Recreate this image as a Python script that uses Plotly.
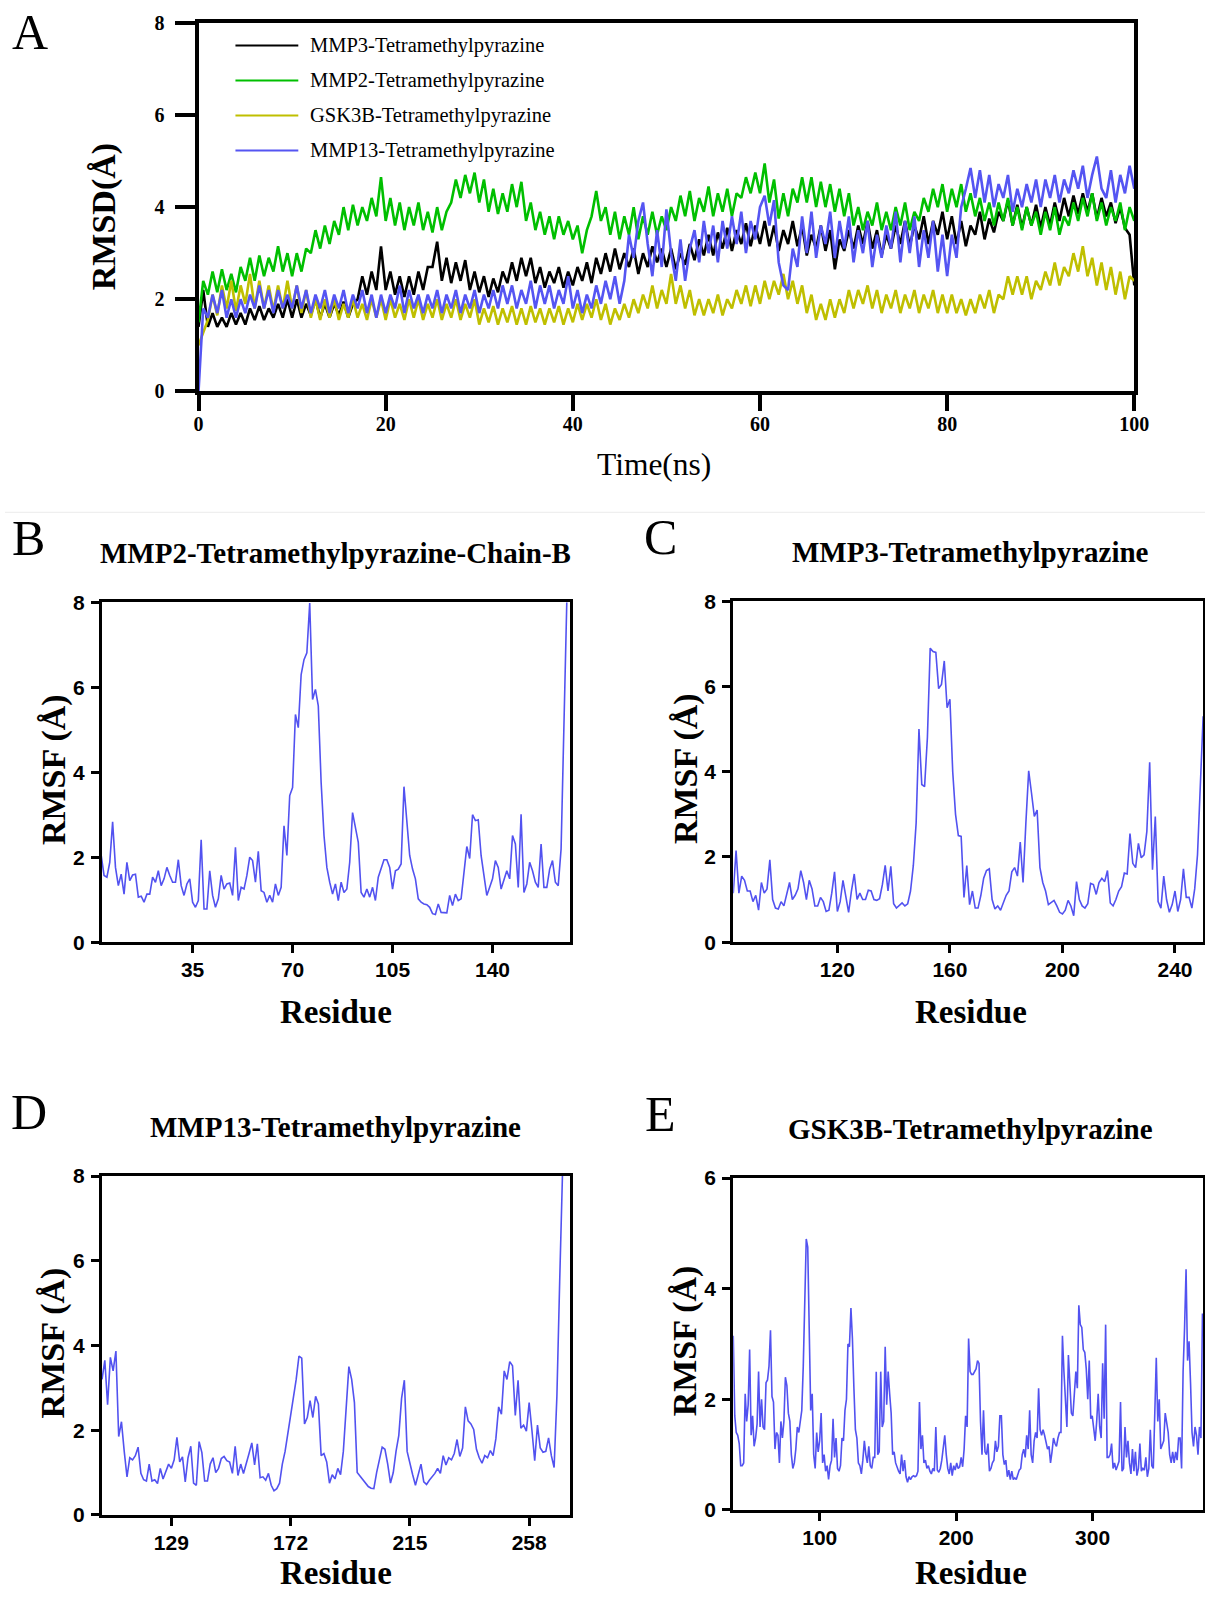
import numpy as np
import plotly.graph_objects as go

SERIF = "Liberation Serif"
SANS = "Liberation Sans"

# %% Panel A: RMSD over the 100 ns run, one value every 0.5 ns
rmsd_names = [
    "MMP3-Tetramethylpyrazine",
    "MMP2-Tetramethylpyrazine",
    "GSK3B-Tetramethylpyrazine",
    "MMP13-Tetramethylpyrazine",
]
rmsd_colors = ["#000000", "#00bf00", "#bfbf00", "#5555f2"]

rmsd_mmp3 = [
    1.4, 2.2, 1.4, 1.7, 1.4, 1.6, 1.4, 1.7, 1.45, 1.7, 1.45, 1.8, 1.55, 1.85, 1.55, 1.8, 1.6, 1.9, 1.6, 2.0,
    1.6, 2.0, 1.6, 1.9, 1.65, 2.0, 1.6, 1.9, 1.6, 1.9, 1.65, 1.95, 1.6, 1.9, 2.0, 2.5, 2.1, 2.6, 2.2, 3.15,
    2.2, 2.6, 2.1, 2.5, 2.05, 2.5, 2.1, 2.6, 2.2, 2.7, 2.7, 3.25, 2.4, 2.9, 2.35, 2.8, 2.4, 2.85, 2.2, 2.6,
    2.15, 2.5, 2.05, 2.45, 2.15, 2.6, 2.35, 2.8, 2.4, 2.9, 2.5, 2.9, 2.35, 2.7, 2.25, 2.6, 2.35, 2.7, 2.25, 2.6,
    2.3, 2.7, 2.4, 2.8, 2.35, 2.9, 2.55, 3.0, 2.6, 3.1, 2.65, 3.0, 2.7, 3.1, 2.55, 3.0, 2.7, 3.15, 2.8, 3.1,
    2.7, 3.1, 2.65, 3.0, 2.75, 3.2, 2.85, 3.3, 2.95, 3.4, 2.95, 3.45, 3.1, 3.55, 3.05, 3.5, 3.2, 3.65, 3.15, 3.6,
    3.2, 3.7, 3.15, 3.6, 3.05, 3.5, 3.2, 3.7, 3.15, 3.6, 2.95, 3.4, 3.1, 3.6, 3.05, 3.5, 2.65, 3.3, 3.05, 3.5,
    3.1, 3.6, 3.2, 3.7, 3.1, 3.5, 2.95, 3.4, 3.1, 3.6, 3.2, 3.7, 3.15, 3.6, 3.3, 3.8, 3.2, 3.7, 3.4, 3.9,
    3.3, 3.8, 3.2, 3.7, 3.15, 3.6, 3.4, 3.9, 3.3, 3.75, 3.45, 3.9, 3.7, 4.15, 3.6, 4.05, 3.55, 4.0, 3.6, 4.05,
    3.55, 4.0, 3.6, 4.1, 3.7, 4.2, 3.8, 4.25, 3.85, 4.3, 3.9, 4.3, 3.75, 4.2, 3.8, 4.1, 3.65, 4.0, 3.55, 3.4,
    2.3,
]
rmsd_mmp2 = [
    1.5, 2.4, 2.1, 2.6, 2.15, 2.65, 2.2, 2.55, 2.15, 2.7, 2.4, 2.9, 2.4, 2.95, 2.5, 2.9, 2.6, 3.15, 2.6, 3.0,
    2.5, 3.0, 2.6, 3.1, 3.0, 3.5, 3.1, 3.6, 3.2, 3.7, 3.4, 4.0, 3.5, 4.05, 3.6, 4.0, 3.7, 4.2, 3.8, 4.65,
    3.7, 4.2, 3.6, 4.1, 3.5, 4.0, 3.6, 4.1, 3.5, 3.9, 3.45, 4.0, 3.5, 3.9, 4.1, 4.6, 4.2, 4.7, 4.3, 4.75,
    4.1, 4.6, 3.9, 4.4, 3.85, 4.3, 3.9, 4.5, 4.0, 4.55, 3.7, 4.1, 3.5, 3.9, 3.4, 3.8, 3.3, 3.8, 3.4, 3.7,
    3.3, 3.6, 3.0, 3.5, 3.8, 4.35, 3.7, 4.0, 3.4, 3.9, 3.3, 3.8, 3.4, 4.0, 3.3, 3.8, 3.4, 3.9, 3.4, 3.8,
    3.5, 4.0, 3.7, 4.25, 3.8, 4.35, 3.7, 4.2, 3.9, 4.45, 3.8, 4.3, 3.9, 4.4, 3.8, 4.3, 4.2, 4.65, 4.3, 4.75,
    4.3, 4.95, 4.1, 4.6, 3.75, 4.3, 3.8, 4.4, 4.1, 4.65, 4.1, 4.65, 4.0, 4.55, 4.0, 4.5, 3.9, 4.4, 3.8, 4.3,
    3.6, 4.0, 3.5, 3.9, 3.6, 4.1, 3.5, 3.9, 3.5, 4.0, 3.6, 4.1, 3.5, 3.9, 3.7, 4.2, 3.9, 4.4, 4.0, 4.5,
    3.9, 4.4, 4.0, 4.5, 3.9, 4.3, 3.8, 4.2, 3.7, 4.1, 3.6, 4.1, 3.7, 4.2, 3.6, 4.0, 3.5, 4.0, 3.6, 3.9,
    3.4, 3.9, 3.5, 4.0, 3.4, 3.8, 3.6, 4.1, 3.7, 4.2, 3.8, 4.3, 3.7, 4.1, 3.6, 4.0, 3.7, 4.1, 3.5, 4.0,
    3.7,
]
rmsd_gsk3b = [
    1.0, 1.3, 1.55, 2.1, 1.65, 2.3, 1.8, 2.4, 1.75, 2.3, 1.9, 2.55, 1.8, 2.4, 1.8, 2.3, 1.75, 2.3, 1.8, 2.4,
    1.8, 2.3, 1.7, 2.2, 1.6, 2.0, 1.55, 2.0, 1.6, 2.0, 1.55, 1.9, 1.6, 2.0, 1.6, 1.9, 1.55, 2.0, 1.6, 2.0,
    1.55, 2.0, 1.6, 1.9, 1.55, 2.0, 1.6, 2.0, 1.55, 1.9, 1.6, 2.0, 1.55, 1.9, 1.6, 2.0, 1.55, 1.9, 1.6, 2.0,
    1.45, 1.8, 1.5, 1.85, 1.45, 1.8, 1.5, 1.85, 1.45, 1.8, 1.45, 1.85, 1.5, 1.8, 1.45, 1.8, 1.5, 1.85, 1.45, 1.8,
    1.5, 1.9, 1.55, 1.9, 1.6, 2.0, 1.55, 1.9, 1.45, 1.8, 1.55, 1.9, 1.6, 2.0, 1.7, 2.1, 1.8, 2.3, 1.8, 2.2,
    1.9, 2.55, 1.9, 2.3, 1.8, 2.2, 1.65, 2.0, 1.65, 2.0, 1.7, 2.1, 1.65, 2.0, 1.8, 2.2, 1.9, 2.3, 1.85, 2.3,
    1.9, 2.4, 2.0, 2.4, 2.1, 2.55, 2.0, 2.4, 1.9, 2.3, 1.7, 2.1, 1.55, 1.9, 1.55, 2.0, 1.6, 2.0, 1.7, 2.2,
    1.8, 2.2, 1.9, 2.3, 1.8, 2.2, 1.7, 2.1, 1.8, 2.2, 1.7, 2.1, 1.8, 2.2, 1.7, 2.1, 1.8, 2.2, 1.7, 2.1,
    1.7, 2.1, 1.7, 2.0, 1.65, 2.0, 1.7, 2.1, 1.8, 2.2, 1.7, 2.1, 2.0, 2.5, 2.1, 2.5, 2.1, 2.5, 2.0, 2.4,
    2.2, 2.6, 2.3, 2.8, 2.3, 2.7, 2.5, 3.0, 2.6, 3.15, 2.5, 2.9, 2.3, 2.8, 2.2, 2.7, 2.1, 2.6, 2.0, 2.5,
    2.4,
]
rmsd_mmp13 = [
    0.0, 1.8, 1.6, 2.1, 1.7, 2.2, 1.6, 2.0, 1.6, 2.0, 1.7, 2.1, 1.8, 2.3, 1.8, 2.2, 1.7, 2.2, 1.8, 2.1,
    1.8, 2.3, 1.8, 2.2, 1.7, 2.1, 1.8, 2.2, 1.7, 2.1, 1.8, 2.2, 1.7, 2.1, 1.8, 2.2, 1.7, 2.1, 1.6, 2.1,
    1.7, 2.1, 1.8, 2.3, 1.7, 2.2, 1.8, 2.1, 1.7, 2.1, 1.8, 2.2, 1.7, 2.1, 1.8, 2.2, 1.7, 2.1, 1.8, 2.2,
    1.7, 2.1, 1.8, 2.2, 1.8, 2.3, 1.9, 2.3, 1.8, 2.2, 1.9, 2.4, 1.8, 2.3, 1.9, 2.3, 1.8, 2.2, 1.9, 2.5,
    1.8, 2.2, 1.7, 2.1, 1.8, 2.3, 1.9, 2.4, 2.0, 2.5, 1.9, 2.4, 3.4, 2.9, 3.7, 4.1, 3.2, 2.5, 3.5, 2.7,
    3.95, 3.0, 2.4, 3.3, 2.4, 3.1, 3.5, 2.8, 3.7, 3.0, 3.6, 2.8, 3.7, 3.1, 3.8, 3.2, 3.9, 3.0, 3.7, 3.3,
    4.0, 4.25, 3.6, 4.15, 2.8, 2.3, 2.2, 3.1, 2.7, 3.8, 3.0, 3.9, 2.9, 3.6, 3.2, 3.9, 2.9, 3.7, 3.1, 3.8,
    2.8, 3.5, 3.0, 3.7, 2.7, 3.4, 2.9, 3.6, 3.1, 3.9, 2.8, 3.7, 3.0, 3.8, 2.7, 3.5, 2.9, 3.7, 2.6, 3.4,
    2.5, 3.4, 2.9, 4.0, 4.4, 4.85, 4.2, 4.8, 4.1, 4.7, 4.0, 4.5, 4.2, 4.7, 3.9, 4.4, 4.0, 4.5, 4.1, 4.6,
    4.0, 4.6, 4.2, 4.7, 4.1, 4.6, 4.3, 4.8, 4.4, 4.9, 4.2, 4.7, 5.1, 4.4, 4.2, 4.8, 4.1, 4.7, 4.3, 4.9,
    4.4,
]
rmsd_values = [rmsd_mmp3, rmsd_mmp2, rmsd_gsk3b, rmsd_mmp13]
time_ns = [i * 0.5 for i in range(len(rmsd_mmp3))]
time_ticks = [0, 20, 40, 60, 80, 100]

# %% Panels B-E: per-residue RMSF
rmsf_mmp2 = [
    2.04, 1.57, 1.53, 1.88, 2.83, 1.76, 1.33, 1.6, 1.13, 1.88,
    1.45, 1.58, 1.6, 1.06, 1.08, 0.94, 1.13, 1.13, 1.53, 1.41,
    1.68, 1.33, 1.49, 1.76, 1.57, 1.41, 1.41, 1.94, 1.33, 1.1,
    1.37, 1.49, 0.94, 0.82, 0.98, 2.41, 0.78, 0.78, 1.68, 1.1,
    0.82, 1.02, 1.57, 1.25, 1.37, 1.39, 1.1, 2.23, 0.98, 1.29,
    1.25, 1.57, 2.0, 1.92, 1.41, 2.14, 1.21, 1.17, 0.94, 1.1,
    0.94, 1.37, 1.1, 1.29, 2.74, 2.04, 3.45, 3.64, 5.36, 5.05,
    6.3, 6.65, 6.81, 7.98, 5.71, 5.95, 5.56, 3.76, 2.51, 1.76,
    1.41, 1.13, 1.37, 0.98, 1.41, 1.17, 1.25, 1.88, 3.05, 2.74,
    2.35, 1.17, 1.06, 1.25, 1.06, 1.29, 0.98, 1.53, 1.72, 1.94,
    1.94, 1.76, 1.25, 1.68, 1.72, 1.84, 3.66, 2.9, 2.04, 1.72,
    1.49, 1.02, 0.94, 0.9, 0.88, 0.82, 0.67, 0.65, 0.9, 0.7,
    0.69, 0.69, 1.1, 0.86, 1.13, 0.98, 1.02, 1.57, 2.25, 1.97,
    3.0, 2.86, 2.88, 2.04, 1.53, 1.1, 1.29, 1.49, 1.92, 1.76,
    1.25, 1.45, 1.68, 1.49, 2.51, 2.31, 1.29, 3.01, 1.17, 1.37,
    1.88, 1.68, 1.41, 1.29, 2.31, 1.29, 1.29, 1.72, 1.92, 1.41,
    1.33, 2.19, 4.85, 8.0,
]
rmsf_mmp3 = [
    1.15, 2.15, 1.15, 1.55, 1.45, 1.2, 1.2, 0.95, 1.1, 0.75,
    1.4, 1.15, 1.25, 1.93, 1.0, 0.8, 0.78, 0.95, 0.85, 1.15,
    1.4, 1.0, 1.1, 1.25, 1.68, 1.4, 1.0, 1.45, 1.25, 0.85,
    0.85, 1.05, 0.95, 0.72, 0.75, 1.15, 1.65, 0.72, 0.95, 1.45,
    1.1, 0.7, 1.2, 1.6, 1.0, 1.15, 1.0, 1.0, 1.22, 1.2,
    1.0, 0.98, 1.02, 1.35, 1.8, 1.2, 1.78, 0.9, 0.8, 0.85,
    0.92, 0.85, 0.9, 1.2, 1.8, 2.8, 5.0, 3.7, 3.65, 4.8,
    6.9, 6.82, 6.8, 5.95, 6.05, 6.6, 5.5, 5.7, 4.0, 3.0,
    2.5, 2.48, 1.05, 1.8, 0.88, 1.2, 0.8, 0.8, 1.1, 1.5,
    1.68, 1.72, 1.0, 0.78, 0.85, 0.75, 0.95, 1.1, 1.2, 1.65,
    1.75, 1.55, 2.35, 1.4, 2.8, 4.02, 3.5, 2.95, 3.1, 1.75,
    1.4, 1.2, 0.88, 0.92, 0.98, 0.85, 0.7, 0.66, 0.75, 0.98,
    0.85, 0.62, 1.42, 1.0, 0.85, 0.8, 0.9, 1.38, 1.35, 1.12,
    1.4, 1.5, 1.42, 1.68, 0.92, 0.85, 1.0, 1.2, 1.3, 1.62,
    1.6, 2.55, 1.85, 1.75, 2.32, 1.98, 2.05, 2.6, 4.22, 1.7,
    2.95, 0.95, 0.8, 1.55, 1.0, 0.7, 0.88, 1.2, 0.72, 1.0,
    1.72, 1.05, 1.05, 0.8, 1.25, 2.05, 3.5, 5.3,
]
rmsf_mmp13 = [
    3.2, 3.65, 2.6, 3.72, 3.4, 3.87, 1.85, 2.2, 1.5, 0.9,
    1.35, 1.3, 1.4, 1.6, 0.98, 0.83, 0.8, 1.2, 0.8, 0.83,
    0.74, 1.1, 0.85, 1.05, 1.2, 1.1, 1.3, 1.83, 1.25, 1.37,
    0.78, 1.35, 1.62, 0.75, 0.7, 1.73, 1.47, 0.8, 0.8, 1.2,
    1.35, 1.0, 1.1, 1.33, 1.38, 1.28, 1.25, 0.98, 1.62, 0.93,
    1.2, 0.98, 1.25, 1.45, 1.7, 1.18, 1.68, 0.88, 0.9, 0.82,
    0.98, 0.7, 0.57, 0.62, 0.75, 1.2, 1.5, 1.9, 2.4, 2.75,
    3.2, 3.75, 3.7, 2.15, 2.3, 2.7, 2.3, 2.8, 2.62, 1.4,
    1.45, 1.25, 0.75, 0.95, 0.85, 1.1, 0.95, 1.5, 2.5, 3.5,
    3.2, 2.65, 1.0, 0.92, 0.82, 0.75, 0.67, 0.63, 0.62, 1.0,
    1.3, 1.6, 1.55, 1.2, 0.75, 1.0, 1.5, 1.88, 2.75, 3.18,
    1.5, 1.2, 0.95, 0.7, 0.92, 1.2, 0.78, 0.72, 0.82, 0.9,
    0.98, 1.1, 0.98, 1.4, 1.18, 1.35, 1.3, 1.45, 1.78, 1.38,
    1.58, 2.55, 2.22, 2.15, 2.02, 1.55, 1.35, 1.22, 1.4, 1.35,
    1.52, 1.4, 1.8, 2.55, 2.38, 3.4, 3.2, 3.62, 3.52, 2.35,
    3.18, 2.05, 2.12, 1.98, 2.65, 2.0, 1.28, 2.12, 1.58, 1.48,
    1.5, 1.82, 1.4, 1.12, 2.8, 5.5, 8.0,
]
rmsf_gsk3b = [
    3.15, 1.7, 1.4, 1.35, 1.2, 0.8, 0.8, 0.85, 2.1, 1.6, 1.9, 2.9, 1.35, 1.7, 1.15, 1.3,
    1.55, 2.5, 1.5, 2.0, 1.5, 1.45, 2.3, 2.35, 2.6, 3.25, 2.05, 1.95, 1.1, 1.4, 1.35, 0.85,
    1.6, 1.3, 1.6, 2.4, 2.25, 1.75, 1.6, 1.0, 0.75, 0.85, 1.1, 1.5, 1.4, 1.6, 1.8, 2.6,
    3.8, 4.9, 4.75, 3.5, 1.8, 2.1, 1.0, 0.75, 1.4, 1.05, 1.25, 1.75, 0.85, 1.0, 0.7, 0.8,
    0.55, 0.8, 0.9, 1.65, 0.95, 1.3, 0.75, 0.7, 0.8, 1.3, 1.25, 1.8, 2.0, 3.0, 2.95, 3.65,
    3.1, 2.2, 1.45, 1.3, 0.85, 0.8, 0.65, 0.9, 1.25, 1.0, 0.85, 1.15, 0.8, 0.75, 0.95, 0.95,
    2.5, 1.0, 1.05, 2.5, 1.5, 1.6, 2.95, 1.9, 2.5, 2.1, 1.75, 1.0, 1.05, 0.85, 0.75, 0.7,
    0.65, 1.0, 0.7, 0.9, 0.6, 0.5, 0.6, 0.55, 0.6, 0.62, 0.6, 0.62, 0.7, 1.95, 1.1, 1.35,
    0.85, 0.9, 0.75, 0.8, 0.7, 0.65, 0.75, 0.7, 1.5, 0.72, 0.68, 0.75, 0.9, 1.1, 1.35, 1.0,
    0.75, 0.65, 0.85, 0.62, 0.8, 0.72, 0.85, 0.75, 0.78, 0.95, 0.78, 1.1, 1.7, 1.5, 3.1, 2.5,
    2.45, 2.45, 2.5, 2.55, 2.7, 2.65, 1.6, 1.0, 1.8, 1.05, 1.0, 1.2, 0.7, 0.75, 0.85, 0.9,
    1.25, 1.05, 1.15, 1.7, 1.7, 1.0, 0.82, 0.9, 0.6, 0.72, 0.55, 0.7, 0.55, 0.58, 0.55, 0.65,
    0.72, 0.75, 1.0, 1.1, 0.95, 1.35, 1.1, 1.8, 1.0, 0.85, 1.25, 1.4, 1.3, 2.2, 1.45, 1.35,
    1.45, 1.35, 1.2, 1.1, 1.15, 0.85, 1.05, 1.3, 1.2, 1.15, 1.3, 1.4, 1.4, 3.15, 2.5, 2.0,
    1.5, 2.8, 2.2, 1.75, 1.7, 2.2, 2.5, 2.2, 3.7, 3.35, 3.3, 2.9, 2.85, 2.55, 2.0, 2.7,
    1.65, 1.7, 1.4, 1.25, 1.6, 2.1, 1.5, 1.3, 2.65, 1.65, 3.35, 0.95, 0.95, 1.0, 1.2, 0.75,
    0.85, 0.72, 0.8, 0.88, 1.95, 0.7, 0.75, 1.5, 0.95, 1.25, 0.85, 0.65, 1.1, 0.7, 1.05, 0.62,
    0.75, 1.2, 0.7, 0.75, 0.72, 0.95, 0.6, 0.75, 1.45, 0.8, 0.75, 1.6, 2.75, 1.6, 2.0, 1.1,
    1.2, 1.25, 1.75, 1.6, 1.4, 1.0, 0.85, 1.05, 0.85, 1.05, 0.9, 1.3, 1.3, 0.75, 2.5, 3.3,
    4.35, 2.7, 3.05, 2.3, 1.4, 1.15, 1.5, 1.35, 1.0, 1.5, 1.3, 3.55,
]
res_mmp2 = list(range(3, 3 + len(rmsf_mmp2)))
res_mmp3 = list(range(83, 83 + len(rmsf_mmp3)))
res_mmp13 = list(range(104, 104 + len(rmsf_mmp13)))
res_gsk3b = np.linspace(36.6, 380.5, len(rmsf_gsk3b))

rmsf_titles = [
    "MMP2-Tetramethylpyrazine-Chain-B",
    "MMP3-Tetramethylpyrazine",
    "MMP13-Tetramethylpyrazine",
    "GSK3B-Tetramethylpyrazine",
]
rmsf_ticks = [[35, 70, 105, 140], [120, 160, 200, 240], [129, 172, 215, 258], [100, 200, 300]]
rmsf_color = "#5252f0"

# %% Layout helpers
# Positions below are measured on the 1205x1600 reference. The photographed
# page comes out slightly shrunk and pushed down, so map through that.
FIG_W, FIG_H = 1223, 1600
SCALE, OFF_X, OFF_Y = 0.986, 2.0, 9.5


def px(x):
    return (x - OFF_X) / SCALE / FIG_W


def py(y):
    return 1 - (y - OFF_Y) / SCALE / FIG_H


fig = go.Figure()

for name, color, vals in zip(rmsd_names, rmsd_colors, rmsd_values):
    fig.add_trace(
        go.Scatter(
            x=time_ns, y=vals, mode="lines", name=name, showlegend=False,
            line=dict(color=color, width=2.6), xaxis="x", yaxis="y",
        )
    )

# panel boxes in reference pixels: left, right, top, bottom
panels = [
    dict(letter="B", box=(99, 568, 600, 940), xr=[3.2, 167], ymax=8, res=res_mmp2, vals=rmsf_mmp2),
    dict(letter="C", box=(732, 1203, 599, 940), xr=[83, 250], ymax=8, res=res_mmp3, vals=rmsf_mmp3),
    dict(letter="D", box=(99, 568, 1174, 1513), xr=[103.9, 272.6], ymax=8, res=res_mmp13, vals=rmsf_mmp13),
    dict(letter="E", box=(732, 1203, 1176, 1508), xr=[36.6, 381], ymax=6, res=res_gsk3b, vals=rmsf_gsk3b),
]

layout_axes = {}
annotations = []

# Panel A axes
layout_axes["xaxis"] = dict(
    domain=[px(196), px(1134)], anchor="y", range=[0, 100], tickvals=time_ticks,
    ticks="outside", ticklen=16, tickwidth=4, tickcolor="black",
    showline=True, linewidth=4, linecolor="black", mirror=True,
    showgrid=False, zeroline=False, ticklabelstandoff=-4,
    tickfont=dict(family=SERIF, size=20, color="black", weight="bold"),
)
layout_axes["yaxis"] = dict(
    domain=[py(389), py(20.4)], anchor="x", range=[0, 8], dtick=2,
    ticks="outside", ticklen=20, tickwidth=4, tickcolor="black",
    showline=True, linewidth=4, linecolor="black", mirror=True,
    showgrid=False, zeroline=False, ticklabelstandoff=6,
    tickfont=dict(family=SERIF, size=20, color="black", weight="bold"),
)
annotations += [
    dict(text="A", x=px(27), y=py(30), font=dict(family=SERIF, size=50)),
    dict(text="<b>RMSD(Å)</b>", x=px(102), y=py(214), textangle=-90,
         font=dict(family=SERIF, size=34)),
    dict(text="Time(ns)", x=px(653), y=py(462), font=dict(family=SERIF, size=31.5)),
]

shapes = [
    dict(type="line", xref="paper", yref="paper", x0=0, x1=1, y0=py(510), y1=py(510),
         line=dict(color="#ececec", width=1)),
]
# legend drawn inside panel A
for i, (name, color) in enumerate(zip(rmsd_names, rmsd_colors)):
    yy = 43 + 35 * i
    shapes.append(dict(type="line", xref="paper", yref="paper", x0=px(233), x1=px(296),
                       y0=py(yy), y1=py(yy), line=dict(color=color, width=2)))
    annotations.append(dict(text=name, x=px(306), y=py(yy), xanchor="left",
                            font=dict(family=SERIF, size=20.5)))

for k, (p, title, ticks) in enumerate(zip(panels, rmsf_titles, rmsf_ticks)):
    n = k + 2
    xa, ya = f"x{n}", f"y{n}"
    left, right, top, bottom = p["box"]
    fig.add_trace(
        go.Scatter(
            x=p["res"], y=p["vals"], mode="lines", showlegend=False,
            line=dict(color=rmsf_color, width=1.6), xaxis=xa, yaxis=ya,
        )
    )
    layout_axes[f"xaxis{n}"] = dict(
        domain=[px(left), px(right)], anchor=ya, range=p["xr"], tickvals=ticks,
        ticks="outside", ticklen=8, tickwidth=3, tickcolor="black",
        showline=True, linewidth=3, linecolor="black", mirror=True,
        showgrid=False, zeroline=False, ticklabelstandoff=-1,
        tickfont=dict(family=SANS, size=21, color="black", weight="bold"),
    )
    layout_axes[f"yaxis{n}"] = dict(
        domain=[py(bottom), py(top)], anchor=xa, range=[0, p["ymax"]], dtick=2,
        ticks="outside", ticklen=8, tickwidth=3, tickcolor="black",
        showline=True, linewidth=3, linecolor="black", mirror=True,
        showgrid=False, zeroline=False, ticklabelstandoff=2,
        tickfont=dict(family=SANS, size=21, color="black", weight="bold"),
    )
    cx = (left + right) / 2
    if right > 1190:
        cx = 970
    # the bottom row's axis title would run off the page at the reference spot
    residue_y = min(bottom + 70, 1571)
    annotations += [
        dict(text=p["letter"], x=px(left - 73), y=py(top - 64), font=dict(family=SERIF, size=50)),
        dict(text=f"<b>{title}</b>", x=px(cx), y=py(top - 49), font=dict(family=SERIF, size=29)),
        dict(text="<b>Residue</b>", x=px(cx), y=py(residue_y), font=dict(family=SERIF, size=33)),
        dict(text="<b>RMSF (Å)</b>", x=px(left - 48), y=py((top + bottom) / 2 - 3),
             textangle=-90, font=dict(family=SERIF, size=34)),
    ]

for a in annotations:
    a.setdefault("xref", "paper")
    a.setdefault("yref", "paper")
    a.setdefault("xanchor", "center")
    a.setdefault("yanchor", "middle")
    a.setdefault("showarrow", False)
    a["font"].setdefault("color", "black")

fig.update_layout(
    width=FIG_W, height=FIG_H, margin=dict(l=0, r=0, t=0, b=0),
    paper_bgcolor="white", plot_bgcolor="white",
    showlegend=False, annotations=annotations, shapes=shapes,
    **layout_axes,
)

# drop the browser's default body margin and any scrollbars
page_fix = (
    "document.documentElement.style.margin='0';"
    "document.documentElement.style.overflow='hidden';"
    "document.body.style.margin='0';"
    "document.body.style.overflow='hidden';"
)
fig.write_html("out.html", post_script=page_fix, config={"displayModeBar": False})
